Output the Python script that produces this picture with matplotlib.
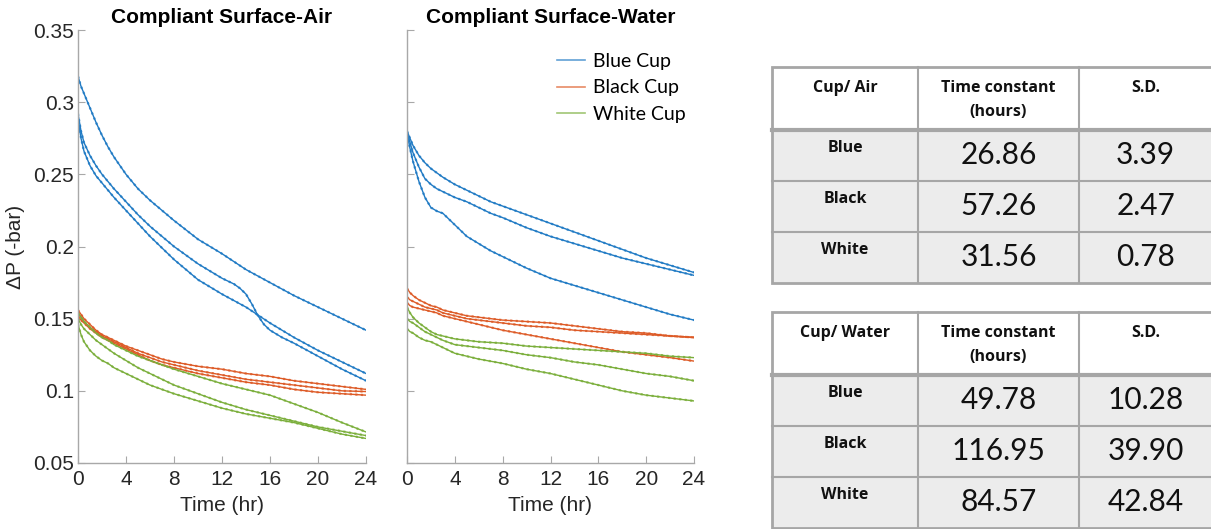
import numpy as np
import matplotlib
matplotlib.use("Agg")
import matplotlib.pyplot as plt
from matplotlib.patches import Rectangle
from matplotlib.lines import Line2D

# ---- data: dP (-bar) vs time (hr), three cups of each colour ----
T = [0, 0.25, 0.5, 1, 1.5, 2, 2.5, 3, 4, 5, 6, 7, 8, 10, 12, 14, 16, 18, 20, 22, 24]

air_blue = [
    [0.318, 0.311, 0.306, 0.296, 0.286, 0.277, 0.269, 0.262, 0.250, 0.240, 0.232, 0.225, 0.218,
     0.205, 0.195, 0.184, 0.175, 0.166, 0.158, 0.150, 0.142],
    [0.288, 0.275, 0.266, 0.256, 0.249, 0.244, 0.239, 0.234, 0.225, 0.216, 0.207, 0.199, 0.191,
     0.177, 0.167, 0.158, 0.147, 0.137, 0.128, 0.120, 0.112],
]
# this one has a kink around 14-15 h, read on a finer grid
T_kink = [0, 0.25, 0.5, 1, 1.5, 2, 2.5, 3, 4, 5, 6, 7, 8, 10, 12, 13, 13.5, 14, 14.5, 15,
          15.5, 16, 17, 18, 20, 22, 24]
air_blue_kink = [0.292, 0.280, 0.272, 0.263, 0.256, 0.250, 0.245, 0.240, 0.231, 0.222, 0.214,
                 0.207, 0.200, 0.188, 0.178, 0.174, 0.171, 0.167, 0.160, 0.152, 0.146, 0.142,
                 0.137, 0.133, 0.124, 0.115, 0.107]

air_black = [
    [0.156, 0.153, 0.150, 0.146, 0.142, 0.139, 0.137, 0.135, 0.131, 0.128, 0.125, 0.122, 0.120,
     0.117, 0.115, 0.112, 0.110, 0.107, 0.105, 0.103, 0.101],
    [0.154, 0.151, 0.148, 0.144, 0.141, 0.138, 0.136, 0.134, 0.130, 0.126, 0.123, 0.120, 0.118,
     0.114, 0.111, 0.108, 0.106, 0.104, 0.102, 0.100, 0.0995],
    [0.152, 0.149, 0.147, 0.143, 0.140, 0.137, 0.135, 0.133, 0.129, 0.125, 0.121, 0.118, 0.116,
     0.112, 0.109, 0.106, 0.104, 0.101, 0.099, 0.098, 0.097],
]
air_white = [
    [0.154, 0.151, 0.148, 0.144, 0.140, 0.137, 0.135, 0.132, 0.128, 0.124, 0.121, 0.118, 0.115,
     0.110, 0.105, 0.101, 0.097, 0.091, 0.085, 0.078, 0.0715],
    [0.150, 0.146, 0.143, 0.139, 0.135, 0.132, 0.129, 0.126, 0.121, 0.116, 0.112, 0.108, 0.104,
     0.098, 0.092, 0.087, 0.083, 0.079, 0.075, 0.072, 0.069],
    [0.146, 0.139, 0.134, 0.128, 0.124, 0.121, 0.119, 0.116, 0.112, 0.108, 0.104, 0.101, 0.098,
     0.093, 0.088, 0.084, 0.081, 0.078, 0.074, 0.070, 0.067],
]

water_blue = [
    [0.280, 0.275, 0.270, 0.263, 0.258, 0.254, 0.251, 0.248, 0.243, 0.239, 0.235, 0.231, 0.228,
     0.222, 0.216, 0.210, 0.204, 0.198, 0.192, 0.187, 0.182],
    [0.279, 0.272, 0.265, 0.255, 0.247, 0.243, 0.240, 0.238, 0.234, 0.231, 0.227, 0.223, 0.220,
     0.213, 0.207, 0.202, 0.197, 0.192, 0.188, 0.184, 0.180],
    [0.278, 0.268, 0.259, 0.245, 0.234, 0.227, 0.2245, 0.223, 0.215, 0.207, 0.202, 0.197, 0.193,
     0.185, 0.178, 0.173, 0.168, 0.163, 0.158, 0.153, 0.149],
]
water_black = [
    [0.171, 0.168, 0.166, 0.163, 0.161, 0.159, 0.158, 0.156, 0.154, 0.152, 0.151, 0.150, 0.149,
     0.148, 0.147, 0.145, 0.143, 0.141, 0.140, 0.138, 0.137],
    [0.165, 0.163, 0.162, 0.160, 0.158, 0.157, 0.156, 0.154, 0.152, 0.150, 0.149, 0.148, 0.147,
     0.145, 0.144, 0.142, 0.141, 0.140, 0.139, 0.138, 0.137],
    [0.161, 0.159, 0.158, 0.157, 0.156, 0.155, 0.154, 0.152, 0.150, 0.148, 0.146, 0.144, 0.142,
     0.139, 0.136, 0.133, 0.130, 0.127, 0.125, 0.123, 0.1206],
]
water_white = [
    [0.158, 0.154, 0.151, 0.147, 0.144, 0.141, 0.139, 0.138, 0.136, 0.135, 0.134, 0.1335, 0.133,
     0.131, 0.130, 0.129, 0.128, 0.127, 0.126, 0.124, 0.123],
    [0.150, 0.148, 0.147, 0.144, 0.141, 0.139, 0.137, 0.135, 0.132, 0.131, 0.130, 0.129, 0.128,
     0.125, 0.123, 0.120, 0.118, 0.115, 0.112, 0.110, 0.107],
    [0.143, 0.141, 0.140, 0.137, 0.135, 0.134, 0.132, 0.130, 0.126, 0.124, 0.122, 0.1205, 0.119,
     0.115, 0.112, 0.108, 0.104, 0.100, 0.097, 0.095, 0.093],
]

cups = ["Blue", "Black", "White"]
air_tc = ["26.86", "57.26", "31.56"]
air_sd = ["3.39", "2.47", "0.78"]
water_tc = ["49.78", "116.95", "84.57"]
water_sd = ["10.28", "39.90", "42.84"]

BLUE, RED, GREEN = "#1f7ac4", "#dd5a26", "#7aae3a"
AX_GREY = "#a8a8a8"
TXT = "#262626"

plt.rcParams.update({"font.family": ["Liberation Sans", "DejaVu Sans"]})
fig = plt.figure(figsize=(12.11, 5.29), dpi=100)
W, H = 1211, 529


def trace(ax, t, y, c):
    ax.plot(t, y, color=c, lw=1.0)
    ax.plot(t, y, color=c, lw=1.6, ls=(0, (1, 1.5)), alpha=0.8)


def style(ax, labels=True):
    ax.set_xlim(0, 24)
    ax.set_ylim(0.05, 0.35)
    ax.set_xticks(np.arange(0, 25, 4))
    ax.set_yticks([0.05, 0.1, 0.15, 0.2, 0.25, 0.3, 0.35])
    for s in ("top", "right"):
        ax.spines[s].set_visible(False)
    for s in ("left", "bottom"):
        ax.spines[s].set_color(AX_GREY)
        ax.spines[s].set_linewidth(1.0)
    ax.tick_params(direction="in", length=5, color=AX_GREY, labelsize=15,
                   labelcolor=TXT)
    ax.tick_params(axis="x", pad=5)
    ax.tick_params(axis="y", pad=3)
    if labels:
        ax.set_yticklabels(["0.05", "0.1", "0.15", "0.2", "0.25", "0.3", "0.35"])
    else:
        ax.set_yticklabels([])
    ax.set_xlabel("Time (hr)", fontsize=15, color=TXT, labelpad=5)


ax1 = fig.add_axes([78 / W, 1 - 463 / H, 288 / W, 433 / H])
ax2 = fig.add_axes([407 / W, 1 - 463 / H, 287 / W, 433 / H])

for y in air_blue:
    trace(ax1, T, y, BLUE)
trace(ax1, T_kink, air_blue_kink, BLUE)
for y in air_black:
    trace(ax1, T, y, RED)
for y in air_white:
    trace(ax1, T, y, GREEN)

for y in water_blue:
    trace(ax2, T, y, BLUE)
for y in water_black:
    trace(ax2, T, y, RED)
for y in water_white:
    trace(ax2, T, y, GREEN)

style(ax1)
style(ax2, labels=False)
ax1.set_ylabel("\u0394P (-bar)", fontsize=15, color=TXT, labelpad=6)
ax1.set_title("Compliant Surface-Air", fontsize=15, fontweight="bold", pad=5)
ax2.set_title("Compliant Surface-Water", fontsize=15, fontweight="bold", pad=5)

handles = [Line2D([], [], color=c, lw=1.2, alpha=0.7) for c in (BLUE, RED, GREEN)]
fig.legend(handles, ["Blue Cup", "Black Cup", "White Cup"], frameon=False,
           loc="upper left", bbox_to_anchor=(557 / W, 1 - 53 / H), borderpad=0,
           borderaxespad=0, handlelength=1.45, handletextpad=0.42,
           labelspacing=0.48, prop={"family": "Lato", "size": 14})

# ---- tables on an overlay in pixel coordinates ----
tax = fig.add_axes([0, 0, 1, 1])
tax.set_xlim(0, W)
tax.set_ylim(H, 0)
tax.axis("off")

cols = [772, 918, 1079, 1212]
LINE = "#a6a6a6"


def table(top, head, tc, sd):
    hh, rh = 63, 51
    bottom = top + hh + 3 * rh
    tax.add_patch(Rectangle((cols[0], top + hh), cols[-1] - cols[0], 3 * rh,
                            fc="#ececec", ec="none"))
    for yy in [top + hh + rh, top + hh + 2 * rh]:
        tax.plot([cols[0], cols[-1]], [yy, yy], color=LINE, lw=1.5)
    tax.plot([cols[0], cols[-1]], [top + hh, top + hh], color=LINE, lw=3)
    for xx in cols[1:-1]:
        tax.plot([xx, xx], [top, bottom], color=LINE, lw=1.5)
    tax.add_patch(Rectangle((cols[0], top), cols[-1] - cols[0], bottom - top,
                            fc="none", ec=LINE, lw=2))
    cx = [(cols[i] + cols[i + 1]) / 2 for i in range(3)]
    hf = {"family": "Open Sans", "weight": "bold", "size": 11.5, "color": "#111"}
    tax.text(cx[0], top + 21, head, ha="center", va="center", **hf)
    tax.text(cx[1], top + 21, "Time constant", ha="center", va="center", **hf)
    tax.text(cx[1], top + 45, "(hours)", ha="center", va="center", **hf)
    tax.text(cx[2], top + 21, "S.D.", ha="center", va="center", **hf)
    for i in range(3):
        y0 = top + hh + i * rh
        tax.text(cx[0], y0 + 18, cups[i], ha="center", va="center", **hf)
        tax.text(cx[1], y0 + 25, tc[i], ha="center", va="center",
                 family="Lato", size=21.5, color="#111")
        tax.text(cx[2], y0 + 25, sd[i], ha="center", va="center",
                 family="Lato", size=21.5, color="#111")


table(67, "Cup/ Air", air_tc, air_sd)
table(312, "Cup/ Water", water_tc, water_sd)

fig.savefig("out.png", dpi=100)
